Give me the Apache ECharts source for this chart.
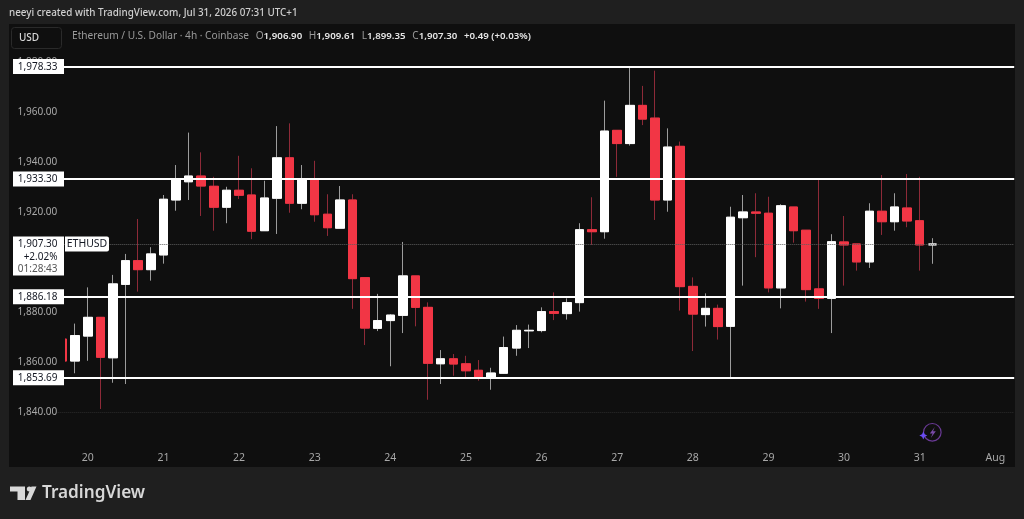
<!DOCTYPE html>
<html><head><meta charset="utf-8">
<style>html,body{margin:0;padding:0;background:#1f1f1f}#c{width:1024px;height:519px}</style>
<script src="https://cdn.jsdelivr.net/npm/echarts@6/dist/echarts.min.js"></script></head>
<body><div id="c"></div>
<script>
const opens=[1869.2,1860.4,1870.4,1877.9,1861.7,1891.1,1900.6,1897,1902.9,1924.9,1932.2,1934.5,1930.4,1922,1928.8,1926.9,1912.6,1925.6,1941.8,1923.6,1933.2,1919.2,1913.6,1924.9,1893.8,1873.5,1876.6,1878.7,1894.5,1881.9,1859.3,1861.3,1859.3,1856.7,1854,1855.5,1865.6,1872.5,1872.6,1880.2,1879.4,1883.8,1913,1912.2,1952.8,1947.5,1962.8,1957.7,1924.9,1946.4,1890.3,1879,1881.5,1874.3,1917.8,1920.1,1919.6,1889.7,1922.1,1912.8,1889.3,1885.5,1908.1,1907.3,1900.1,1920.4,1916.2,1921.7,1916.6,1906.9];
const closes=[1860.4,1870.6,1877.9,1861.9,1891.3,1900.6,1897,1903.3,1925.2,1933,1934.5,1930.5,1922,1928.8,1926.8,1912.4,1925.7,1941.8,1923.6,1933.2,1919,1913.8,1924.9,1893.4,1873.6,1876.6,1878.8,1894.5,1881.9,1859.5,1861.3,1859.2,1856.5,1854,1855.6,1865.8,1872.7,1872.7,1880.2,1879.5,1883.8,1913,1912.2,1952.5,1947.5,1962.8,1957.3,1924.9,1946.1,1890.2,1879.2,1881.5,1874.2,1918,1920.1,1919.6,1889.7,1922.6,1912.6,1889,1885.5,1908.2,1906.9,1900.1,1920.4,1916.2,1922.1,1916.5,1906.9,1907.3];
const lows=[1860.4,1855.5,1860.5,1841.2,1851.7,1851.2,1888.2,1892.6,1899.4,1920.6,1924.9,1918.5,1912.6,1915.6,1925.3,1909.2,1912.6,1911.3,1919.8,1921.2,1916.2,1910.5,1913.6,1881.3,1866.8,1872.4,1858.3,1871.6,1874.3,1844.9,1851.2,1854.5,1853.7,1852.5,1848.9,1855.2,1862.5,1865.6,1871.9,1876.8,1877,1880.2,1906.9,1909.4,1934.2,1946.7,1954.9,1916.9,1920.2,1880.6,1864.4,1874.2,1869,1853.9,1890.6,1902,1887.9,1881.5,1907.8,1884.2,1881.3,1871.6,1890.6,1896.6,1897.7,1910.9,1912.6,1914,1896.6,1899.35];
const highs=[1869.2,1875.4,1889.9,1877.9,1894.9,1903.3,1917.3,1906,1926.9,1938.9,1951.9,1944,1934.2,1930.2,1942.6,1937.6,1932.6,1954.5,1955.6,1938.9,1940.6,1927.2,1930.5,1927.2,1893.8,1887.3,1879.2,1908.1,1894.5,1883.9,1864.8,1863.2,1862.5,1860.8,1857.7,1870.2,1874.8,1875,1881.9,1887.9,1885.5,1915.6,1926,1964.7,1952.8,1977.9,1970.6,1976.7,1953.6,1948.3,1893.9,1887.5,1883,1922.2,1926.9,1927.6,1926.2,1923.2,1922.1,1912.8,1932.9,1911.2,1918.5,1907.3,1923.6,1934.9,1927.6,1935.3,1934.2,1909.61];
const dayLabels=['20','21','22','23','24','25','26','27','28','29','30','31','Aug'];
const levelPrices=[1978.33,1933.30,1886.18,1853.69];
const lastPrice=1907.30;
const lastLines=['1,907.30','+2.02%','01:28:43'];
const symbolTag='ETHUSD';
const dottedPrice=1840;
const barsPerDay=6, firstDayBar=2, totalBars=76;

const FONT='"Noto Sans",sans-serif';
const categories=[];
for(let i=0;i<totalBars;i++){const k=(i-firstDayBar)/barsPerDay;categories.push(Number.isInteger(k)&&dayLabels[k]?dayLabels[k]:'');}
const fmt=v=>v.toLocaleString('en-US',{minimumFractionDigits:2,maximumFractionDigits:2});
const wickData=opens.map((o,i)=>[o,closes[i],lows[i],highs[i]]);
const bodyData=opens.map((o,i)=>[o,closes[i],Math.min(o,closes[i]),Math.max(o,closes[i])]);

const chart=echarts.init(document.getElementById('c'),null,{renderer:'canvas'});
const tagText=(text,x,y,fill,size,align)=>({type:'text',style:{text,x,y,fill,font:`${size||10}px ${FONT}`,align:align||'right',verticalAlign:'middle'}});
chart.setOption({
 animation:false,
 backgroundColor:'#1f1f1f',
 grid:{left:56.3,top:12.5,width:957.9,height:449.4,containLabel:false},
 xAxis:{type:'category',data:categories,boundaryGap:true,axisLine:{show:false},axisTick:{show:false},splitLine:{show:false},
  axisLabel:{color:'#a8a8a8',fontFamily:FONT,fontSize:10.5,interval:(i)=>categories[i]!=='',margin:-9,hideOverlap:false}},
 yAxis:{type:'value',min:1820,max:2000,interval:20,z:10,scale:true,axisLine:{show:false},axisTick:{show:false},splitLine:{show:false},
  axisLabel:{color:'#a8a8a8',fontFamily:FONT,fontSize:10,margin:-1,padding:[4,0,0,0],formatter:v=>(v<=1820||v>=2000)?'':fmt(v)}},
 graphic:[
  {type:'rect',z:-10,shape:{x:9,y:24,width:1006,height:443},style:{fill:'#0f0f0f'},silent:true},
  {type:'rect',z:5,shape:{x:9,y:24,width:56,height:443},style:{fill:'#0f0f0f'},silent:true},
  {type:'rect',z:5,shape:{x:1015,y:24,width:9,height:443},style:{fill:'#1f1f1f'},silent:true},
  {type:'text',z:30,style:{text:'neeyi created with TradingView.com, Jul 31, 2026 07:31 UTC+1',x:9,y:13,fill:'#cfcfcf',font:`500 9.87px ${FONT}`,verticalAlign:'middle'}},
  {type:'rect',z:30,shape:{x:11.5,y:27.5,width:50,height:21,r:3},style:{fill:'#0f0f0f',stroke:'#2a2a2a',lineWidth:1}},
  {type:'text',z:30,style:{text:'USD',x:29,y:38,fill:'#d8d8d8',font:`500 10px ${FONT}`,align:'center',verticalAlign:'middle'}},
  {type:'text',z:30,style:{x:72,y:36.5,verticalAlign:'middle',
    text:'{g|Ethereum / U.S. Dollar · 4h · Coinbase}  {g|O}{v|1,906.90}  {g|H}{v|1,909.61}  {g|L}{v|1,899.35}  {g|C}{v|1,907.30}  {v|+0.49 (+0.03%)}',
    rich:{g:{fill:'#9a9a9a',font:`10.15px ${FONT}`},v:{fill:'#e6e6e6',font:`600 9.7px ${FONT}`}}}},
  {type:'polygon',z:30,shape:{points:[[10,486.5],[25,486.5],[25,500],[17.5,500],[17.5,491.5],[10,491.5]]},style:{fill:'#d8d8d8'}},
  {type:'circle',z:30,shape:{cx:29.3,cy:489,r:2.5},style:{fill:'#d8d8d8'}},
  {type:'polygon',z:30,shape:{points:[[31.5,486.5],[36.5,486.5],[30.5,500],[25.5,500]]},style:{fill:'#d8d8d8'}},
  {type:'text',z:30,style:{text:'TradingView',x:42,y:493.5,fill:'#d8d8d8',font:`600 17.2px ${FONT}`,verticalAlign:'middle'}},
  {type:'circle',z:30,shape:{cx:932.3,cy:432.3,r:8.8},style:{fill:'transparent',stroke:'#6a3a96',lineWidth:1.2}},
  {type:'polygon',z:30,shape:{points:[[934.8,427],[929.8,433.5],[932.6,433.5],[930.8,438],[935.8,431.3],[933,431.3]]},style:{fill:'#7a4aa8'}},
  {type:'polygon',z:31,shape:{points:[[923.3,431.5],[924.6,434.2],[927.3,435.5],[924.6,436.8],[923.3,439.5],[922,436.8],[919.3,435.5],[922,434.2]]},style:{fill:'#6a4cf0'}}
 ],
 series:[
  {type:'candlestick',name:'wicks',data:wickData,barWidth:9,z:2,clip:true,silent:true,
   itemStyle:{color:'#9c9c9c',color0:'#8e2a38',borderColor:'#9c9c9c',borderColor0:'#8e2a38',borderWidth:1},
   markLine:{silent:true,symbol:'none',animation:false,label:{show:false},data:[
     ...levelPrices.map(p=>({yAxis:p,lineStyle:{color:'#ffffff',width:1.8,type:'solid'}})),
     {yAxis:lastPrice,lineStyle:{color:'#5e5e5e',width:1,type:'dotted'}},
     {yAxis:dottedPrice,lineStyle:{color:'#2c2c2c',width:1,type:'dotted'}}
   ]}},
  {type:'candlestick',name:'bodies',data:bodyData,barWidth:9,z:3,clip:true,silent:true,
   itemStyle:{color:'#ffffff',color0:'#f23645',borderColor:'#ffffff',borderColor0:'#f23645',borderWidth:1}},
  {type:'custom',name:'levelTags',z:20,clip:false,silent:true,data:levelPrices.map(p=>[0,p]),
   encode:{x:0,y:1},
   renderItem:(params,api)=>{const y=api.coord([0,api.value(1)])[1];
    return {type:'group',children:[
     {type:'rect',shape:{x:13,y:y-7.5,width:51,height:15},style:{fill:'#ffffff'}},
     tagText(fmt(api.value(1)),57.5,y+0.5,'#131722',10)]};}},
  {type:'custom',name:'lastTag',z:21,clip:false,silent:true,data:[[0,lastPrice]],encode:{x:0,y:1},
   renderItem:(params,api)=>{const y=api.coord([0,api.value(1)])[1];
    return {type:'group',children:[
     {type:'rect',shape:{x:13,y:y-7.5,width:51,height:39},style:{fill:'#ffffff'}},
     tagText(lastLines[0],57.5,y+0.5,'#131722',10),
     tagText(lastLines[1],57.5,y+13,'#131722',10),
     tagText(lastLines[2],57.5,y+25.5,'#555555',10),
     {type:'rect',shape:{x:65,y:y-7.5,width:44,height:15,r:[0,2,2,0]},style:{fill:'#ffffff'}},
     tagText(symbolTag,87,y+0.5,'#131722',10.5,'center')]};}}
 ]
});
</script></body></html>
